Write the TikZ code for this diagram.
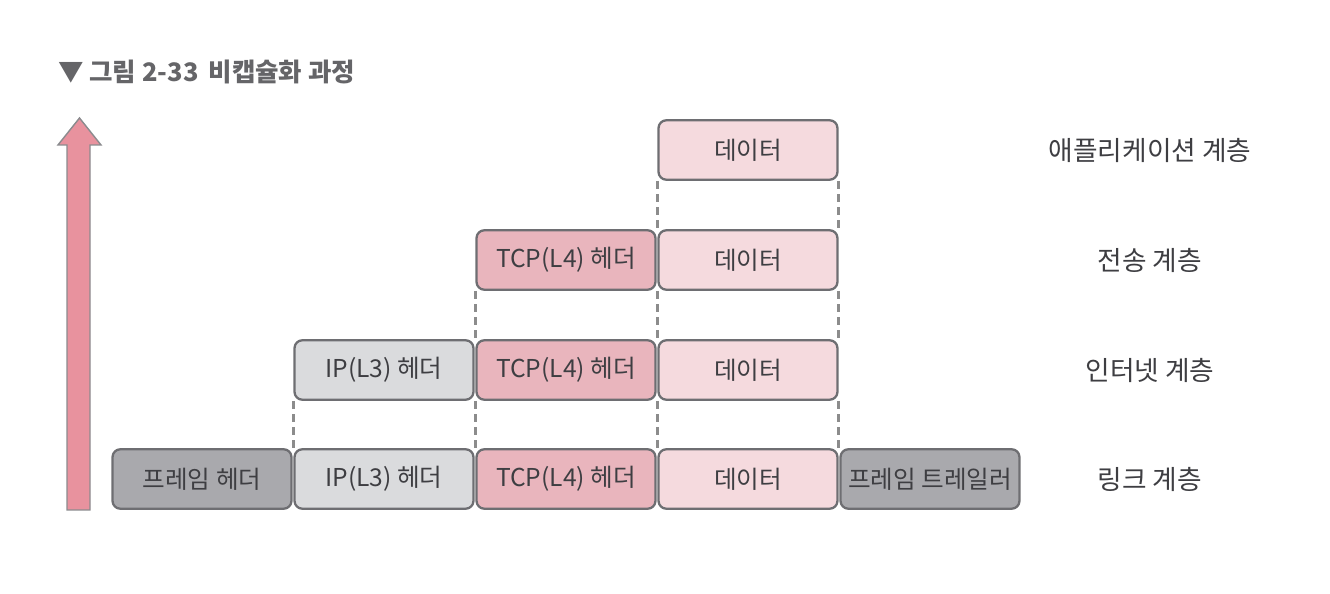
\documentclass[tikz,border=0pt]{standalone}
\usepackage{fontspec}
\setmainfont{Noto Sans CJK KR}
\usepackage{tikz}

\definecolor{framegray}{HTML}{A9A9AD}
\definecolor{ipgray}{HTML}{DADBDD}
\definecolor{tcppink}{HTML}{E9B5BD}
\definecolor{datapink}{HTML}{F5DADE}
\definecolor{edgegray}{HTML}{6E6E72}
\definecolor{arrowpink}{HTML}{E8929E}
\definecolor{textgray}{HTML}{3E3E42}

\begin{document}
\begin{tikzpicture}[x=0.02cm,y=-0.02cm]

\tikzset{block/.style = {shape=rectangle,draw=edgegray,line width=1.3pt,rounded corners=4.5pt,
  minimum width=3.58cm,minimum height=1.19cm,inner sep=0pt,text=textgray,
  font=\fontsize{14}{17}\selectfont}}
\tikzset{layer/.style = {text=textgray,font=\fontsize{15.2}{18}\selectfont}}
\tikzset{guide/.style = {draw=gray!90,line width=1.3pt,dash pattern=on 4.5pt off 3pt}}

\useasboundingbox (0,0) rectangle (1330,594);

% title
\node[text=textgray!80,anchor=west,font=\fontsize{14.5}{17}\bfseries] (title) at (52,72) {▼ 그림 2-33\, 비캡슐화 과정};

% arrow
\draw[draw=edgegray!80,line width=0.8pt,fill=arrowpink,line join=miter]
  (67,510) -- (67,145) -- (58,145) -- (79.5,118) -- (101,145) -- (90,145) -- (90,510) -- cycle;

% application layer
\node[block,fill=datapink] (a-data) at (748,150) {데이터};

% transport layer
\node[block,fill=tcppink] (t-tcp) at (566,260) {TCP(L4) 헤더};
\node[block,fill=datapink] (t-data) at (748,260) {데이터};

% internet layer
\node[block,fill=ipgray] (i-ip) at (384,370) {IP(L3) 헤더};
\node[block,fill=tcppink] (i-tcp) at (566,370) {TCP(L4) 헤더};
\node[block,fill=datapink] (i-data) at (748,370) {데이터};

% link layer
\node[block,fill=framegray] (l-head) at (202,479) {프레임 헤더};
\node[block,fill=ipgray] (l-ip) at (384,479) {IP(L3) 헤더};
\node[block,fill=tcppink] (l-tcp) at (566,479) {TCP(L4) 헤더};
\node[block,fill=datapink] (l-data) at (748,479) {데이터};
\node[block,fill=framegray] (l-tail) at (930,479) {프레임 트레일러};

% labels
\node[layer] (app) at (1150,150) {애플리케이션 계층};
\node[layer] (trans) at (1150,260) {전송 계층};
\node[layer] (inet) at (1150,370) {인터넷 계층};
\node[layer] (link) at (1150,479) {링크 계층};

% guides
\draw[guide] (a-data.south west) to (t-data.north west);
\draw[guide] (a-data.south east) to (t-data.north east);
\draw[guide] (t-tcp.south west) to (i-tcp.north west);
\draw[guide] (t-data.south west) to (i-data.north west);
\draw[guide] (t-data.south east) to (i-data.north east);
\draw[guide] (i-ip.south west) to (l-ip.north west);
\draw[guide] (i-tcp.south west) to (l-tcp.north west);
\draw[guide] (i-data.south west) to (l-data.north west);
\draw[guide] (i-data.south east) to (l-data.north east);

\end{tikzpicture}
\end{document}
